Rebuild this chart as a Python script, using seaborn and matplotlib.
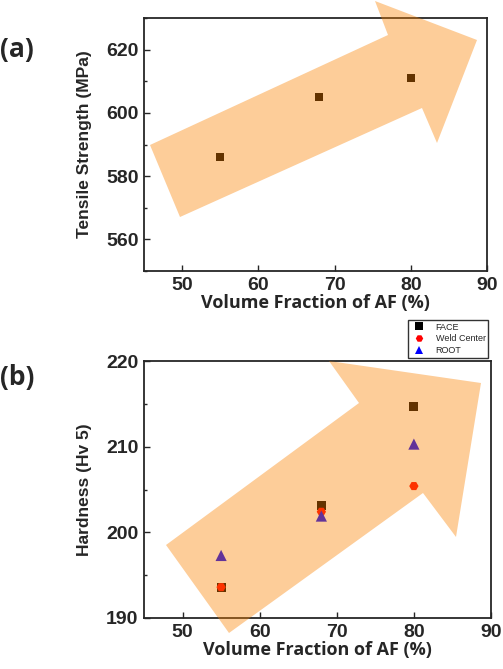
import seaborn as sns
import pandas as pd
import matplotlib.pyplot as plt
from matplotlib.patches import Polygon
from matplotlib.ticker import MultipleLocator

# (a) tensile strength
af_a = [55, 68, 80]
tensile = [586, 605, 611]

# (b) hardness at three positions
af_b = [55, 68, 80]
face = [193.6, 203.1, 214.7]
weld_center = [193.6, 202.4, 205.4]
root = [197.3, 201.9, 210.3]
positions = ["FACE", "Weld Center", "ROOT"]

df_a = pd.DataFrame({"af": af_a, "ts": tensile})
df_b = pd.DataFrame({
    "af": af_b * 3,
    "hv": face + weld_center + root,
    "pos": [p for p in positions for _ in af_b],
})

sns.set_style("ticks")
plt.rcParams["font.family"] = ["Liberation Sans", "DejaVu Sans"]
label_font = ["Open Sans", "DejaVu Sans"]

W, H = 503, 669
fig = plt.figure(figsize=(W / 100, H / 100), dpi=100)
ax1 = fig.add_axes([144 / W, 1 - 271 / H, 343 / W, 253 / H])
ax2 = fig.add_axes([144 / W, 1 - 618 / H, 347 / W, 257 / H])

sns.scatterplot(data=df_a, x="af", y="ts", marker="s", color="black",
                s=34, linewidth=0, ax=ax1, legend=False)
sns.scatterplot(data=df_b, x="af", y="hv", hue="pos", style="pos", size="pos",
                sizes={"FACE": 40, "Weld Center": 45, "ROOT": 65},
                palette={"FACE": "black", "Weld Center": "red", "ROOT": "blue"},
                markers={"FACE": "s", "Weld Center": "H", "ROOT": "^"},
                linewidth=0, ax=ax2)

# big translucent arrows drawn over the points (figure pixel outlines)
arrow_a = [(180, 217), (150, 145), (388, 35), (375, 1), (477, 40), (437, 143), (422, 108)]
arrow_b = [(166, 545), (229, 633), (423, 493), (456, 537), (481, 383), (329, 361), (359, 403)]
for ax, pts in [(ax1, arrow_a), (ax2, arrow_b)]:
    poly = Polygon([(x / W, 1 - y / H) for x, y in pts], closed=True,
                   transform=fig.transFigure, facecolor=(0.98, 0.51, 0.0),
                   alpha=0.4, edgecolor="none", clip_on=False, zorder=5)
    ax.add_patch(poly)

ax1.set_xlim(45, 90)
ax1.set_ylim(550, 630)
ax1.set_yticks([560, 580, 600, 620])
ax1.yaxis.set_minor_locator(MultipleLocator(10))
ax2.set_xlim(45, 90)
ax2.set_ylim(190, 220)
ax2.set_yticks([190, 200, 210, 220])
ax2.yaxis.set_minor_locator(MultipleLocator(5))

for ax, ylab in [(ax1, "Tensile Strength (MPa)"), (ax2, "Hardness (Hv 5)")]:
    ax.set_xticks([50, 60, 70, 80, 90])
    ax.tick_params(which="major", direction="in", length=4, width=1, labelsize=14, pad=4)
    ax.tick_params(which="minor", direction="in", length=2.5, width=1)
    for lab in ax.get_xticklabels() + ax.get_yticklabels():
        lab.set_fontweight("bold")
    for sp in ax.spines.values():
        sp.set_linewidth(1.3)
        sp.set_visible(True)
    ax.set_xlabel("Volume Fraction of AF (%)", fontsize=13, fontweight="bold",
                  family=label_font, labelpad=0)
    ax.set_ylabel(ylab, fontsize=12.5, fontweight="bold", labelpad=10)

leg = ax2.legend(loc="lower right", bbox_to_anchor=(1.005, 0.995), frameon=True,
                 fancybox=False, edgecolor="black", fontsize=6.5, markerscale=0.8,
                 handletextpad=0.8, borderpad=0.3, labelspacing=0.3, title=None)
leg.get_frame().set_linewidth(1)

fig.text(0 / W, 1 - 50 / H, "(a)", fontsize=19, fontweight="bold",
         family=label_font, va="center", ha="left")
fig.text(0 / W, 1 - 378 / H, "(b)", fontsize=19, fontweight="bold",
         family=label_font, va="center", ha="left")

fig.savefig("out.png", dpi=100)
